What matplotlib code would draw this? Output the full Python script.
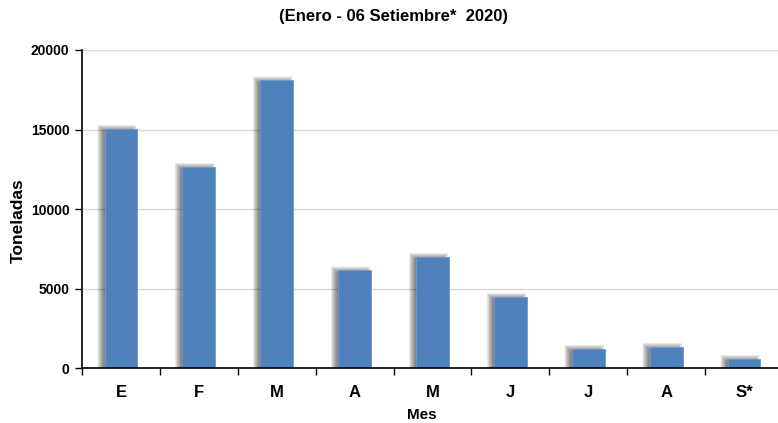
import matplotlib
matplotlib.use("Agg")
import matplotlib.pyplot as plt
from matplotlib.patches import Rectangle
import numpy as np

plt.rcParams['font.family'] = ['Liberation Sans', 'DejaVu Sans']

meses = ["E", "F", "M", "A", "M", "J", "J", "A", "S*"]
toneladas = [15050, 12660, 18110, 6160, 7020, 4490, 1230, 1340, 590]
yticks = [0, 5000, 10000, 15000, 20000]

fig = plt.figure(figsize=(7.78, 4.23), dpi=100)
L, R, B, T = 82/778, 783/778, (423-368.3)/423, (423-50)/423
ax = fig.add_axes([L, B, R-L, T-B])

ax.set_xlim(-0.5, len(meses) - 0.5)
ax.set_ylim(0, 20000)

x = np.arange(len(meses))
w = 0.42
px_x = (len(meses)) / (ax.get_position().width * 778)
px_y = 20000 / (ax.get_position().height * 423)

# soft shadow: stacked translucent rectangles
layers = np.linspace(-3.0, 3.5, 14)
for xi, v in zip(x, toneladas):
    for e in layers:
        x0 = xi - w/2 - 4*px_x - e*px_x
        x1 = xi + w/2 - 4*px_x + e*px_x
        top = v + 0.5*px_y + e*px_y
        ax.add_patch(Rectangle((x0, -2000), x1 - x0, top + 2000,
                               facecolor='black', edgecolor='none', alpha=0.042, zorder=2))

ax.bar(x, toneladas, width=w, color='#4F81BD', edgecolor='#6F99CC', linewidth=0.6, zorder=3)

ax.set_yticks(yticks)
ax.set_yticklabels([str(v) for v in yticks], fontsize=10, fontweight='bold')
ax.set_xticks(x)
ax.set_xticklabels(meses, fontsize=12, fontweight='bold')
ax.set_xticks(np.arange(-0.5, len(meses) + 0.5, 1), minor=True)
ax.tick_params(axis='x', which='major', length=0, pad=12)
ax.tick_params(axis='x', which='minor', length=5, width=1, direction='out')
ax.tick_params(axis='y', length=5, width=1, direction='out', pad=4)

ax.grid(axis='y', color='#D9D9D9', linewidth=1, zorder=0)
ax.set_axisbelow(True)
for s in ['top', 'right']:
    ax.spines[s].set_visible(False)
ax.spines['left'].set_linewidth(1.2)
ax.spines['bottom'].set_linewidth(1.2)
ax.spines['left'].set_zorder(4)
ax.spines['bottom'].set_zorder(4)

fig.text(18/778, 1 - 221/423, "Toneladas", fontsize=12.5, fontweight='bold', rotation=90, ha='center', va='center')
fig.text(422/778, 1 - 415/423, "Mes", fontsize=11, fontweight='bold', ha='center', va='center')
fig.text(393/778, 1 - 16/423, "(Enero - 06 Setiembre*  2020)", fontsize=12, fontweight='bold', ha='center', va='center')

fig.savefig("out.png", dpi=100)
